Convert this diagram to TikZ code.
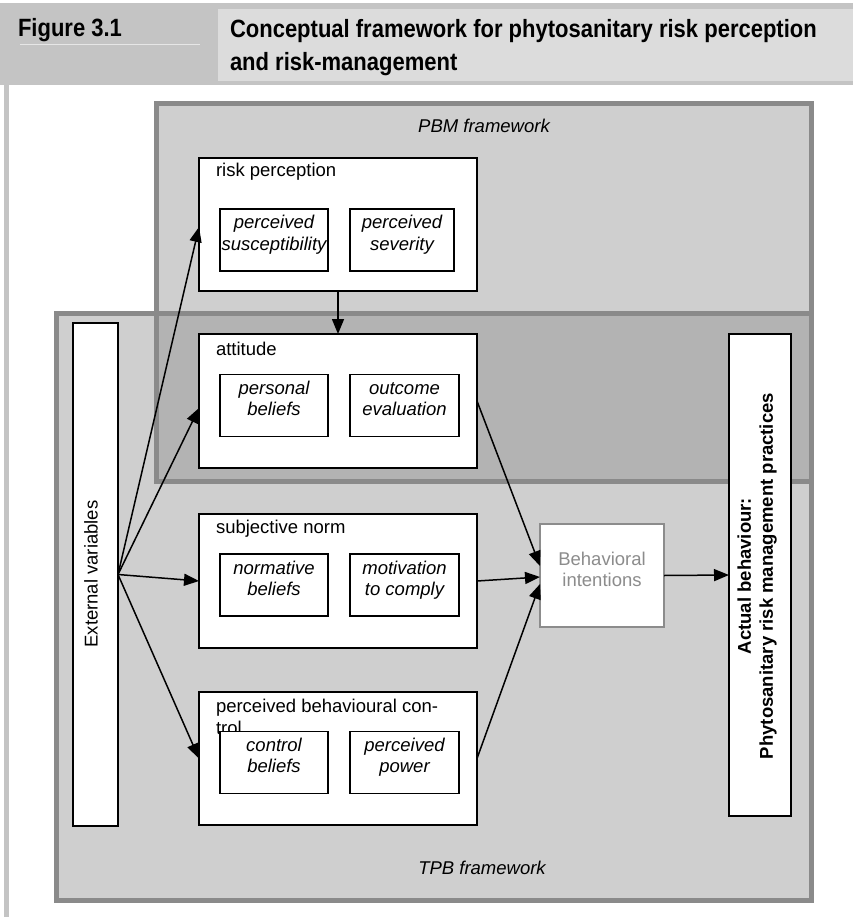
\documentclass[tikz,border=0pt]{standalone}
\usepackage{fontspec}
\setmainfont{Liberation Sans}
\newfontfamily\headfamily[FakeStretch=0.88]{Liberation Sans}
\usetikzlibrary{arrows.meta}

\definecolor{bandgray}{HTML}{C4C4C4}
\definecolor{cellgray}{HTML}{DCDCDC}
\definecolor{ruleline}{HTML}{E6E6E6}
\definecolor{framefill}{HTML}{CFCFCF}
\definecolor{overlapfill}{HTML}{B3B3B3}
\definecolor{frameline}{HTML}{8A8A8A}
\definecolor{softtext}{HTML}{8C8C8C}

\begin{document}
\begin{tikzpicture}[x=1pt,y=-1pt,
  every node/.style={inner sep=0pt,outer sep=0pt},
  mainbox/.style={draw=black,line width=2pt,fill=white,minimum width=278pt},
  subbox/.style={draw=black,line width=1.8pt,fill=white,minimum height=62pt},
  boxtitle/.style={anchor=base west,font=\fontsize{18.5}{22}\selectfont},
  subtext/.style={anchor=north,align=center,font=\fontsize{18.5}{21}\selectfont\itshape},
  link/.style={line width=1.5pt,-{Triangle[length=15pt,width=12pt]}},
  frameborder/.style={draw=frameline,line width=5pt},
  framelabel/.style={font=\fontsize{18.5}{22}\selectfont\itshape},
  headfont/.style={font=\headfamily\fontsize{25}{33}\selectfont\bfseries},
]
\useasboundingbox (0,0) rectangle (853,917);
\fill[white] (0,0) rectangle (853,917);

% heading band
\fill[bandgray] (0,3) rectangle (853,85);
\fill[cellgray] (218,9) rectangle (853,81);
\draw[ruleline,line width=1pt] (20,45) -- (200,45);
\fill[bandgray] (4,85) rectangle (9,917);
\node[headfont,anchor=base west] (fignum) at (18,37) {Figure 3.1};
\node[headfont,anchor=north west,align=left] (figtitle) at (230,19)
  {\rule{0pt}{18pt}Conceptual framework for phytosanitary risk perception\\and risk-management};

% the two overlapping frameworks
\fill[framefill] (156.5,103.5) rectangle (811.5,481.5);
\fill[framefill] (56,313.5) rectangle (811.5,900.5);
\fill[overlapfill] (156.5,313.5) rectangle (811.5,481.5);
\draw[frameborder] (156.5,103.5) rectangle (811.5,481.5);
\draw[frameborder] (56,313.5) rectangle (811.5,900.5);
\node[framelabel] (pbmlabel) at (484,126) {PBM framework};
\node[framelabel] (tpblabel) at (482,868) {TPB framework};

% external variables
\node[draw=black,line width=2pt,fill=white,minimum width=45pt,minimum height=503pt] (ext) at (95.5,574.5) {};
\node[rotate=90,font=\fontsize{18.5}{22}\selectfont] (extlabel) at (91,574) {External variables};

% risk perception
\node[mainbox,minimum height=133pt] (rp) at (338,224.5) {};
\node[boxtitle] (rptitle) at (216,177) {risk perception};
\node[subbox,minimum width=108pt] (rpa) at (274,240) {};
\node[subbox,minimum width=104pt] (rpb) at (402,240) {};
\node[subtext] (rpatext) at ([yshift=-6pt]rpa.north) {\rule{0pt}{14pt}perceived\\susceptibility};
\node[subtext] (rpbtext) at ([yshift=-6pt]rpb.north) {\rule{0pt}{14pt}perceived\\severity};

% attitude
\node[mainbox,minimum height=134pt] (att) at (338,401) {};
\node[boxtitle] (atttitle) at (216,355) {attitude};
\node[subbox,minimum width=108pt] (atta) at (274,405.5) {};
\node[subbox,minimum width=109pt] (attb) at (404.5,405.5) {};
\node[subtext] (attatext) at ([yshift=-6pt]atta.north) {\rule{0pt}{14pt}personal\\beliefs};
\node[subtext] (attbtext) at ([yshift=-6pt]attb.north) {\rule{0pt}{14pt}outcome\\evaluation};

% subjective norm
\node[mainbox,minimum height=134pt] (sn) at (338,581) {};
\node[boxtitle] (sntitle) at (216,533) {subjective norm};
\node[subbox,minimum width=108pt] (sna) at (274,585) {};
\node[subbox,minimum width=109pt] (snb) at (404.5,585) {};
\node[subtext] (snatext) at ([yshift=-6pt]sna.north) {\rule{0pt}{14pt}normative\\beliefs};
\node[subtext] (snbtext) at ([yshift=-6pt]snb.north) {\rule{0pt}{14pt}motivation\\to comply};

% perceived behavioural control
\node[mainbox,minimum height=133pt] (pbc) at (338,758.5) {};
\node[anchor=north west,align=left,font=\fontsize{18.5}{22}\selectfont] (pbctitle) at (216,698)
  {\rule{0pt}{14pt}perceived behavioural con-\\trol};
\node[subbox,minimum width=108pt] (pbca) at (274,762.5) {};
\node[subbox,minimum width=109pt] (pbcb) at (404.5,762.5) {};
\node[subtext] (pbcatext) at ([yshift=-6pt]pbca.north) {\rule{0pt}{14pt}control\\beliefs};
\node[subtext] (pbcbtext) at ([yshift=-6pt]pbcb.north) {\rule{0pt}{14pt}perceived\\power};

% behavioral intentions
\node[draw=softtext,line width=1.5pt,fill=white,minimum width=124pt,minimum height=103pt] (bi) at (602,575.5) {};
\node[anchor=north,align=center,text=softtext,font=\fontsize{18.5}{21}\selectfont] (bitext) at ([yshift=-27pt]bi.north)
  {\rule{0pt}{14pt}Behavioral\\intentions};

% actual behaviour
\node[draw=black,line width=2pt,fill=white,minimum width=62pt,minimum height=482pt] (act) at (760,575) {};
\node[rotate=90,align=center,font=\fontsize{18.5}{22}\selectfont\bfseries] (acttext) at (757,576)
  {Actual behaviour:\\Phytosanitary risk management practices};

% connectors
\draw[link] (ext.east) -- ([yshift=-2.5pt]rp.west);
\draw[link] (ext.east) -- ([yshift=-7pt]att.west);
\draw[link] (ext.east) -- (sn.west);
\draw[link] (ext.east) -- (pbc.west);
\draw[link] (rp.south) -- (att.north);
\draw[link] (att.east) -- ([yshift=9.5pt]bi.west);
\draw[link] (sn.east) -- ([yshift=-1.5pt]bi.west);
\draw[link] (pbc.east) -- ([yshift=-8.5pt]bi.west);
\draw[link] (bi.east) -- (act.west);
\end{tikzpicture}
\end{document}
